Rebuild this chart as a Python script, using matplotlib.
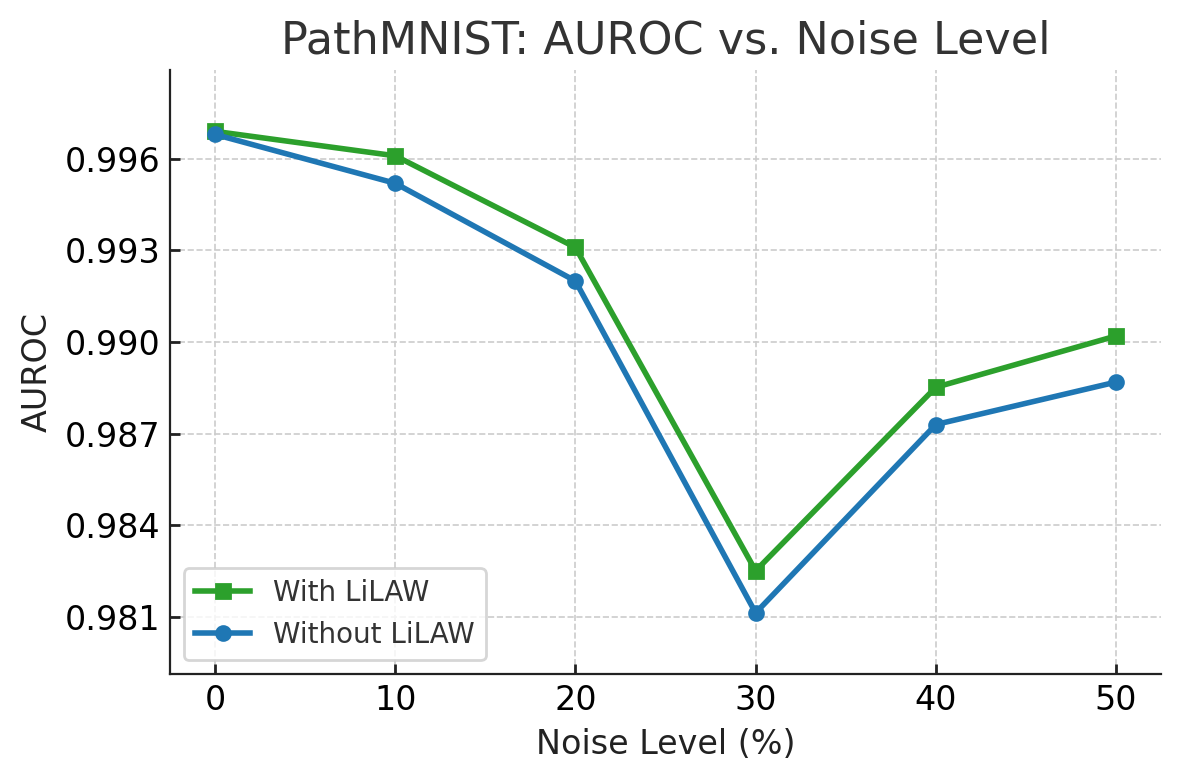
import matplotlib
matplotlib.use("Agg")
import matplotlib.pyplot as plt

# noise levels and AUROC values
noise = [0, 10, 20, 30, 40, 50]
with_lilaw = [0.9969, 0.9961, 0.9931, 0.98251, 0.98852, 0.9902]
without_lilaw = [0.9968, 0.9952, 0.9920, 0.98113, 0.9873, 0.98869]

plt.rcParams['font.family'] = ['DejaVu Sans']

fig, ax = plt.subplots(figsize=(5.9, 3.905), dpi=200)

ax.plot(noise, with_lilaw, marker="s", color="#2ca02c", lw=2, ms=5, label="With LiLAW")
ax.plot(noise, without_lilaw, marker="o", color="#1f77b4", lw=2, ms=5, label="Without LiLAW")

lo = min(without_lilaw + with_lilaw)
hi = max(without_lilaw + with_lilaw)
ax.set_ylim(lo - 0.002, hi + 0.002)
ax.set_xticks(noise)
ax.set_yticks([0.981, 0.984, 0.987, 0.990, 0.993, 0.996])
ax.set_yticklabels(["0.981", "0.984", "0.987", "0.990", "0.993", "0.996"])

ax.set_title("PathMNIST: AUROC vs. Noise Level", fontsize=16, color="#333333")
ax.set_xlabel("Noise Level (%)", fontsize=12, color="#222222")
ax.set_ylabel("AUROC", fontsize=12, color="#222222")
ax.tick_params(labelsize=12, direction="in", length=3.5, width=1, color="#222222")
ax.grid(True, ls="--", color="#cccccc", lw=0.6)
ax.spines["top"].set_visible(False)
ax.spines["right"].set_visible(False)
for s in ["left", "bottom"]:
    ax.spines[s].set_color("#222222")
ax.legend(loc="lower left", fontsize=10, labelcolor="#333333")

fig.subplots_adjust(left=0.144, right=0.984, top=0.91, bottom=0.137)
fig.savefig("out.png", dpi=200)
